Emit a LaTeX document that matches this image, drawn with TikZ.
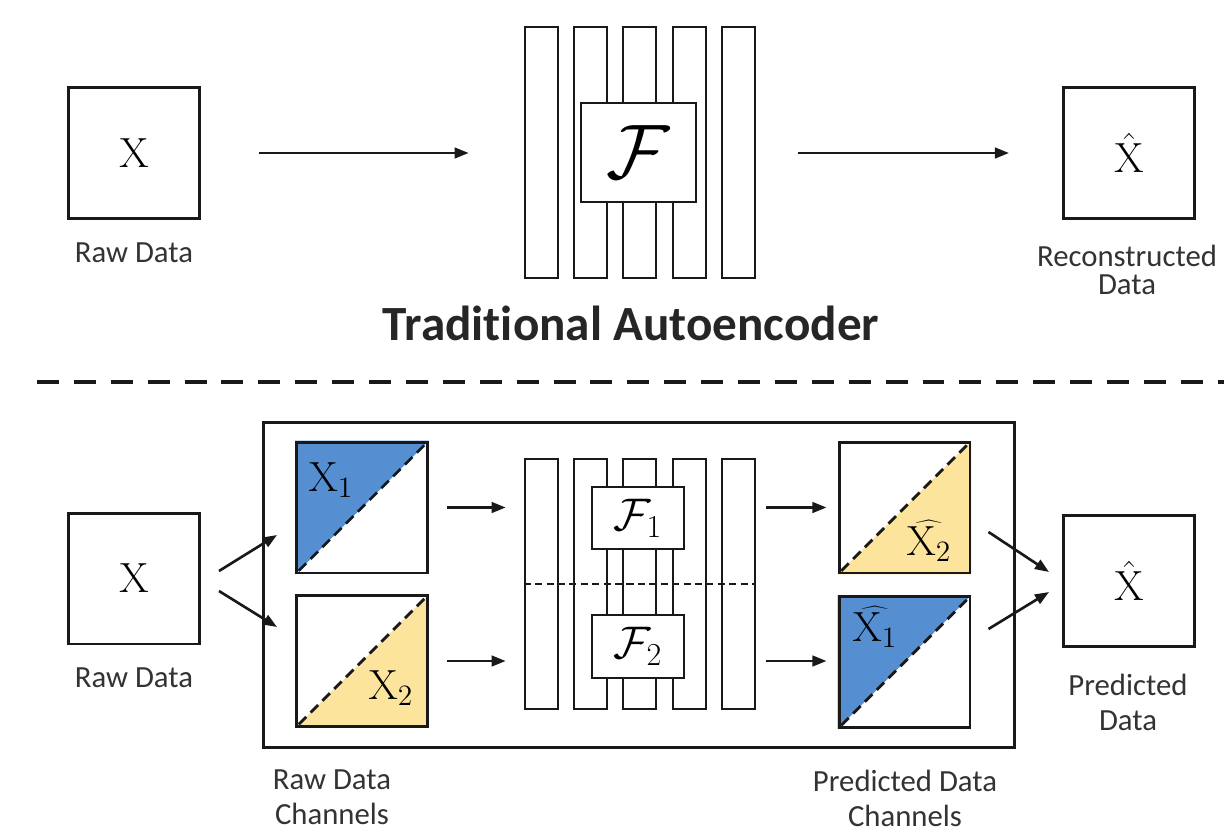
\RequirePackage{fix-cm}
\documentclass[tikz,border=0pt]{standalone}
\usepackage[no-math]{fontspec}
\newfontfamily\lblfont{Carlito}[Ligatures={NoCommon,NoRequired}]
\usetikzlibrary{arrows.meta,calc,backgrounds}
\definecolor{chanblue}{RGB}{86,142,210}
\definecolor{chanyellow}{RGB}{252,228,156}
\definecolor{ink}{RGB}{25,25,25}
\begin{document}
\begin{tikzpicture}[x=0.02cm,y=-0.02cm,
  databox/.style={draw=ink, line width=1.7pt, minimum width=2.62cm, minimum height=2.62cm, inner sep=0pt, font=\fontsize{24}{24}\selectfont},
  layerbox/.style={draw=ink, line width=1.5pt, minimum width=0.66cm, inner sep=0pt},
  funcbox/.style={draw=ink, line width=1.5pt, fill=white, inner sep=0pt},
  arr/.style={draw=ink, -{Triangle[length=8pt,width=6pt]}, line width=1.5pt},
  lbl/.style={font=\lblfont\fontsize{17.5}{20}\selectfont, align=center, text=black!80, inner sep=0pt},
  sym/.style={font=\fontsize{24}{24}\selectfont, inner sep=0pt},
  split/.style={draw=ink, line width=1.6pt, dash pattern=on 6pt off 3.5pt, shorten <=3pt, shorten >=3pt}
]
\useasboundingbox (0,0) rectangle (1224,832);

% ---------- traditional autoencoder ----------
\node[databox] (tX) at (134,153) {$\mathrm{X}$};
\node[lbl] (tXlbl) at (134,253) {Raw Data};

\foreach \i/\x in {1/541.5,2/590.5,3/639.5,4/689.5,5/738.5}
  \node[layerbox, minimum height=5.02cm] (tL\i) at (\x,152.5) {};
\node[funcbox, minimum width=2.3cm, minimum height=1.98cm, font=\fontsize{44}{44}\selectfont] (tF) at (638.5,152.5) {$\mathcal{F}$};

\node[databox] (tXh) at (1129,153) {$\hat{\mathrm{X}}$};
\node[lbl, font=\lblfont\fontsize{17.5}{15.5}\selectfont] (tXhlbl) at (1127,270) {Reconstructed\\Data};

\draw[arr, shorten <=1.16cm, shorten >=1.1cm] (tX.east) -- (tX.east -| tL1.west);
\draw[arr, shorten <=0.84cm, shorten >=1.06cm] (tXh.west -| tL5.east) -- (tXh.west);

\node[font=\lblfont\bfseries\fontsize{28}{30}\selectfont, text=black!85, anchor=base, inner sep=0pt] (title) at (631,340) {Traditional Autoencoder};

% ---------- separator ----------
\draw[ink, line width=2.3pt, dash pattern=on 12.5pt off 8.5pt] (37,382) -- (1224,382);

% ---------- channel-wise prediction ----------
\node[draw=ink, line width=1.7pt, minimum width=15.04cm, minimum height=6.52cm, inner sep=0pt] (frame) at (639,585) {};

\node[databox] (bX) at (134,578.5) {$\mathrm{X}$};
\node[lbl] (bXlbl) at (134,678) {Raw Data};

\node[databox] (X1) at (362,507.5) {};
\node[databox] (X2) at (362,661) {};
\node[databox] (Xh2) at (904.5,507.5) {};
\node[databox] (Xh1) at (904.5,662) {};

\begin{scope}[on background layer]
  \fill[chanblue] (X1.north west) -- (X1.north east) -- (X1.south west) -- cycle;
  \fill[chanyellow] (X2.north east) -- (X2.south east) -- (X2.south west) -- cycle;
  \fill[chanyellow] (Xh2.north east) -- (Xh2.south east) -- (Xh2.south west) -- cycle;
  \fill[chanblue] (Xh1.north west) -- (Xh1.north east) -- (Xh1.south west) -- cycle;
\end{scope}
\foreach \b in {X1,X2,Xh2,Xh1}
  \draw[split] (\b.south west) -- (\b.north east);

\node[sym] (X1t) at (331,480) {$\mathrm{X}_1$};
\node[sym] (X2t) at (391,688) {$\mathrm{X}_2$};
\node[sym] (Xh2t) at (929,541) {$\widehat{\mathrm{X}_2}$};
\node[sym] (Xh1t) at (875,627) {$\widehat{\mathrm{X}_1}$};

\foreach \i/\x in {1/541.5,2/590.5,3/639.5,4/689.5,5/738.5}
  \node[layerbox, minimum height=5.0cm] (bL\i) at (\x,584) {};
\draw[ink, line width=1.3pt, dash pattern=on 4pt off 2.5pt] (bL1.west) -- (bL5.east);
\node[funcbox, minimum width=1.84cm, minimum height=1.24cm, font=\fontsize{26}{26}\selectfont] (F1) at (638,518) {$\mathcal{F}_1$};
\node[funcbox, minimum width=1.84cm, minimum height=1.26cm, font=\fontsize{26}{26}\selectfont] (F2) at (638,646.5) {$\mathcal{F}_2$};

\node[databox] (fX) at (1129,581) {$\hat{\mathrm{X}}$};
\node[lbl] (fXlbl) at (1128,702) {Predicted\\Data};

\node[lbl] (rawlbl) at (332,797) {Raw Data\\Channels};
\node[lbl] (predlbl) at (905,798) {Predicted Data\\Channels};

% connectors
\draw[arr] ([shift={(18,-7.5)}]bX.east) -- ([shift={(-18,27.5)}]X1.west);
\draw[arr] ([shift={(18,12.5)}]bX.east) -- ([shift={(-18,-34)}]X2.west);
\draw[arr, shorten <=0.36cm, shorten >=0.36cm] (X1.east) -- (X1.east -| bL1.west);
\draw[arr, shorten <=0.36cm, shorten >=0.36cm] (X2.east) -- (X2.east -| bL1.west);
\draw[arr, shorten <=0.2cm, shorten >=0.22cm] (Xh2.west -| bL5.east) -- (Xh2.west);
\draw[arr, shorten <=0.2cm, shorten >=0.22cm] (X2.east -| bL5.east) -- (X2.east -| Xh1.west);
\draw[arr] ([shift={(17,24.5)}]Xh2.east) -- ([shift={(-13,-9)}]fX.west);
\draw[arr] ([shift={(17,-33)}]Xh1.east) -- ([shift={(-13,11)}]fX.west);
\end{tikzpicture}
\end{document}
